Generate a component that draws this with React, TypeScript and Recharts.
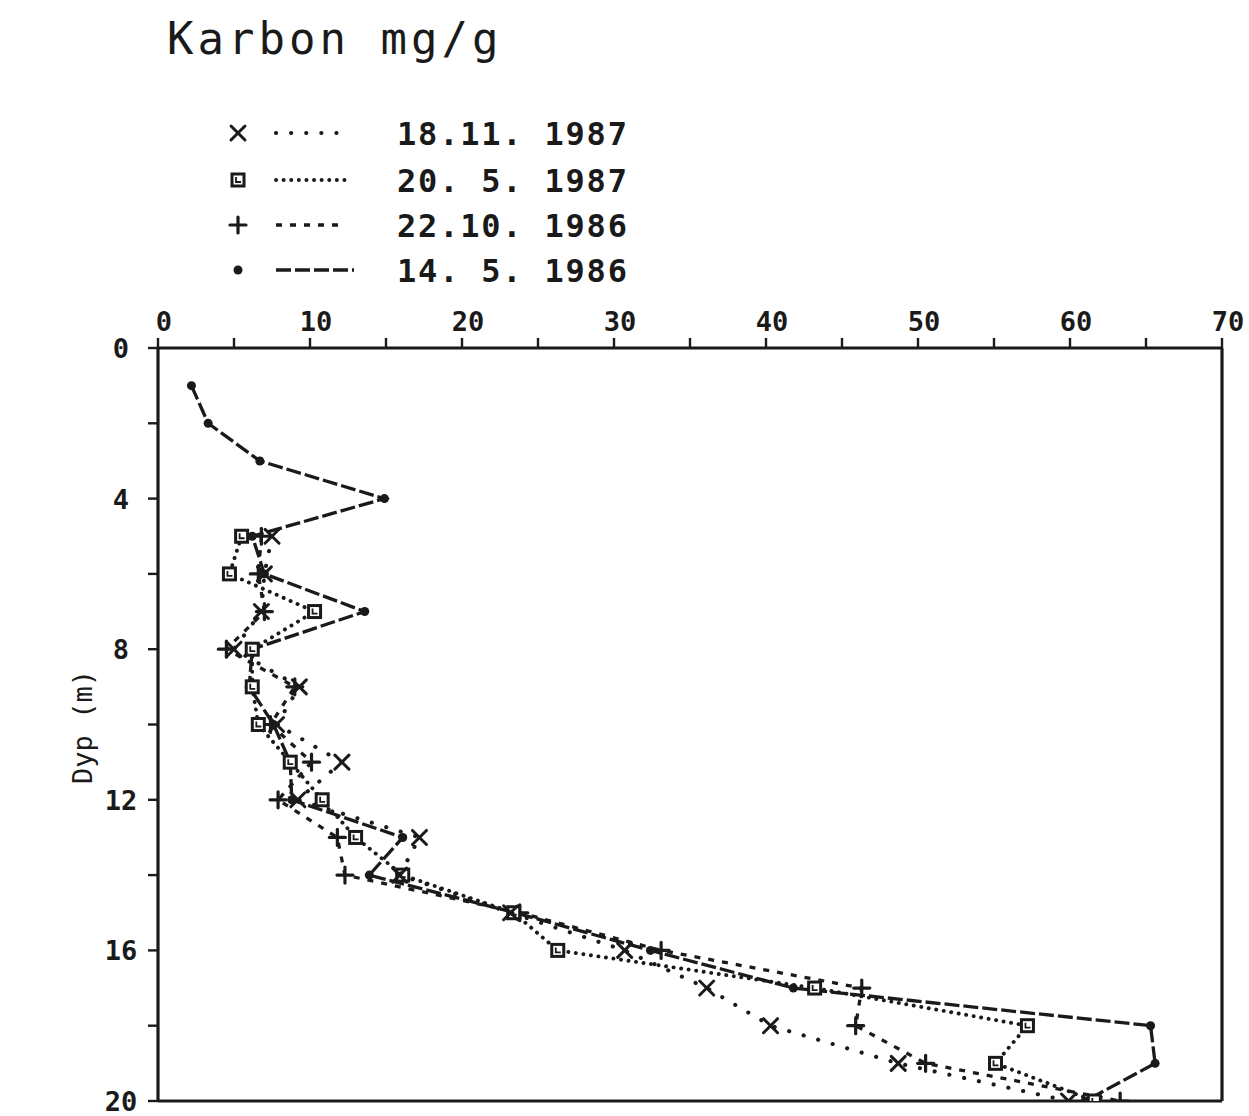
import React from 'react';
import { ScatterChart, Scatter, XAxis, YAxis, ReferenceLine } from 'recharts';

// ---- data ----
const depthsUpper = [1, 2, 3, 4, 5, 6, 7, 8, 9, 10, 11, 12, 13, 14, 15, 16, 17, 18, 19, 20];
const depthsLower = [5, 6, 7, 8, 9, 10, 11, 12, 13, 14, 15, 16, 17, 18, 19, 20];

const carbon_18_11_1987 = [7.5, 7.0, 6.8, 5.0, 9.3, 7.8, 12.1, 9.2, 17.2, 15.9, 23.2, 30.7, 36.1, 40.3, 48.7, 59.9];
const carbon_20_5_1987 = [5.5, 4.7, 10.3, 6.2, 6.2, 6.6, 8.7, 10.8, 13.0, 16.1, 23.4, 26.3, 43.2, 57.2, 55.1, 61.6];
const carbon_22_10_1986 = [6.8, 6.6, 7.0, 4.5, 9.0, 7.4, 10.1, 7.9, 11.8, 12.3, 23.8, 33.1, 46.3, 45.9, 50.5, 63.3];
const carbon_14_5_1986 = [2.2, 3.3, 6.7, 14.9, 6.2, 7.0, 13.6, 6.2, 6.0, 7.6, 8.7, 8.8, 16.1, 13.9, 23.5, 32.4, 41.8, 65.3, 65.6, 61.0];

const seriesNames = ['18.11. 1987', '20. 5. 1987', '22.10. 1986', '14. 5. 1986'];
const xTicks = [0, 5, 10, 15, 20, 25, 30, 35, 40, 45, 50, 55, 60, 65, 70];
const yTicks = [0, 2, 4, 6, 8, 10, 12, 14, 16, 18, 20];
const titleText = 'Karbon mg/g';
const yLabelText = 'Dyp (m)';

// ---- styles ----
const INK = '#1a1a1a';
const MONO = '"DejaVu Sans Mono", "Liberation Mono", monospace';

type MarkProps = { cx?: number; cy?: number };

function XMark({ cx = 0, cy = 0 }: MarkProps) {
  const s = 7;
  return (
    <g stroke={INK} strokeWidth={3} strokeLinecap="round">
      <line x1={cx - s} y1={cy - s} x2={cx + s} y2={cy + s} />
      <line x1={cx - s} y1={cy + s} x2={cx + s} y2={cy - s} />
    </g>
  );
}

function SquareMark({ cx = 0, cy = 0 }: MarkProps) {
  return (
    <g>
      <rect x={cx - 6} y={cy - 6} width={12} height={12} fill="#fff" stroke={INK} strokeWidth={3} />
      <path d={`M${cx - 2} ${cy - 3} L${cx - 2} ${cy + 2} L${cx + 3} ${cy + 2}`} fill="none" stroke={INK} strokeWidth={1.8} />
    </g>
  );
}

function PlusMark({ cx = 0, cy = 0 }: MarkProps) {
  const s = 8;
  return (
    <g stroke={INK} strokeWidth={3.2} strokeLinecap="round">
      <line x1={cx - s} y1={cy} x2={cx + s} y2={cy} />
      <line x1={cx} y1={cy - s} x2={cx} y2={cy + s} />
    </g>
  );
}

function DotMark({ cx = 0, cy = 0 }: MarkProps) {
  return <circle cx={cx} cy={cy} r={4.5} fill={INK} />;
}

const toPoints = (depths: number[], values: number[]) => depths.map((d, i) => ({ x: values[i], y: d }));

const series = [
  { name: seriesNames[3], data: toPoints(depthsUpper, carbon_14_5_1986), Mark: DotMark, dash: '15 4', cap: 'butt', width: 3.3 },
  { name: seriesNames[2], data: toPoints(depthsLower, carbon_22_10_1986), Mark: PlusMark, dash: '6 8', cap: 'butt', width: 3.3 },
  { name: seriesNames[1], data: toPoints(depthsLower, carbon_20_5_1987), Mark: SquareMark, dash: '0.1 7.5', cap: 'round', width: 3.9 },
  { name: seriesNames[0], data: toPoints(depthsLower, carbon_18_11_1987), Mark: XMark, dash: '0.1 15', cap: 'round', width: 4.1 },
];

const legendOrder = [3, 2, 1, 0];

function XTick(props: any) {
  const { x, payload } = props;
  if (payload.value % 10 !== 0) return <g />;
  return (
    <text x={x + 6} y={331} textAnchor="middle" fill={INK} fontSize={27} fontWeight="bold" fontFamily={MONO}>
      {payload.value}
    </text>
  );
}

function YTick(props: any) {
  const { y, payload } = props;
  if (payload.value % 4 !== 0) return <g />;
  return (
    <text x={121} y={y + 10} textAnchor="middle" fill={INK} fontSize={27} fontWeight="bold" fontFamily={MONO}>
      {payload.value}
    </text>
  );
}

export default function App() {
  const legendRowsY = [133, 180, 225, 270];
  return (
    <div style={{ position: 'absolute', left: 0, top: 0, width: 1249, height: 1116, background: '#fff' }}>
      <ScatterChart width={1249} height={1116} margin={{ top: 308, right: 27, bottom: 15, left: 98 }}>
        <XAxis
          type="number"
          dataKey="x"
          orientation="top"
          domain={[0, 70]}
          ticks={xTicks}
          interval={0}
          height={40}
          tickSize={10}
          tick={<XTick />}
          tickLine={{ stroke: INK, strokeWidth: 2.4 }}
          axisLine={{ stroke: INK, strokeWidth: 3.2 }}
          allowDataOverflow
        />
        <YAxis
          type="number"
          dataKey="y"
          domain={[0, 20]}
          reversed
          ticks={yTicks}
          interval={0}
          width={60}
          tickSize={10}
          tick={<YTick />}
          tickLine={{ stroke: INK, strokeWidth: 2.4 }}
          axisLine={{ stroke: INK, strokeWidth: 3.2 }}
          allowDataOverflow
        />
        <ReferenceLine x={70} stroke={INK} strokeWidth={3.2} />
        <ReferenceLine y={20} stroke={INK} strokeWidth={3.2} />
        {series.map((s) => (
          <Scatter
            key={s.name}
            name={s.name}
            data={s.data}
            fill={INK}
            line={{ stroke: INK, strokeWidth: s.width, strokeDasharray: s.dash, strokeLinecap: s.cap as any }}
            lineType="joint"
            shape={(p: any) => <s.Mark cx={p.cx} cy={p.cy} />}
            isAnimationActive={false}
          />
        ))}
      </ScatterChart>
      <svg width={1249} height={1116} style={{ position: 'absolute', left: 0, top: 0, pointerEvents: 'none' }}>
        <text x={167} y={54} fontSize={44} fontFamily={MONO} fill={INK} letterSpacing={4}>
          {titleText}
        </text>
        {legendOrder.map((idx, row) => {
          const s = series[idx];
          const cy = legendRowsY[row];
          return (
            <g key={s.name}>
              <s.Mark cx={238} cy={cy} />
              <line x1={276} y1={cy} x2={row === 3 ? 354 : 346} y2={cy} stroke={INK} strokeWidth={s.width} strokeDasharray={s.dash} strokeLinecap={s.cap as any} />
              <text x={397} y={cy + 12} fontSize={32} fontWeight="bold" fontFamily={MONO} fill={INK} letterSpacing={1.8} style={{ whiteSpace: 'pre' }}>
                {s.name}
              </text>
            </g>
          );
        })}
        <text
          x={0}
          y={0}
          transform="translate(92 727) rotate(-90)"
          textAnchor="middle"
          fontSize={27}
          fontFamily={MONO}
          fill={INK}
          style={{ whiteSpace: 'pre' }}
        >
          {yLabelText}
        </text>
      </svg>
    </div>
  );
}
